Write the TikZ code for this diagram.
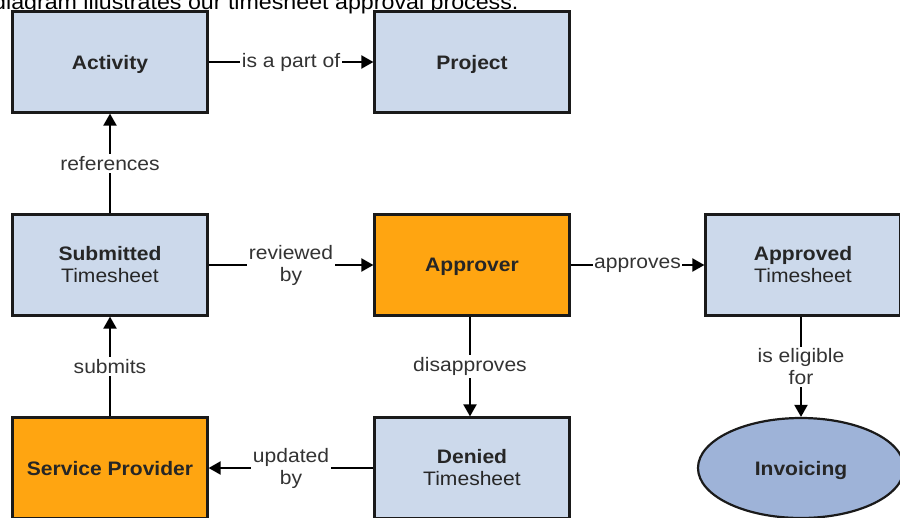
\documentclass[tikz,border=0pt]{standalone}
\usepackage{fontspec}
\setmainfont{Liberation Sans}[FakeStretch=1.08]
\usetikzlibrary{shapes.geometric,arrows.meta}
\definecolor{boxblue}{HTML}{CCD9EB}
\definecolor{boxorange}{HTML}{FFA511}
\definecolor{ellblue}{HTML}{9EB3D8}
\definecolor{txt}{HTML}{262626}
\definecolor{lbltxt}{HTML}{333333}
\definecolor{edge}{HTML}{1A1A1A}
\begin{document}
\begin{tikzpicture}[x=1pt,y=-1pt,
  box/.style={draw=edge, line width=2.2pt, minimum width=195pt, minimum height=101pt,
    inner sep=0pt, align=center, font=\fontsize{19.5}{22}\selectfont, text=txt},
  bluebox/.style={box, fill=boxblue},
  orangebox/.style={box, fill=boxorange},
  oneline/.style={text depth=0pt},
  ellnode/.style={draw=edge, line width=2.2pt, ellipse, fill=ellblue, minimum width=206pt,
    minimum height=100pt, inner sep=0pt, text depth=0pt, font=\fontsize{19.5}{22}\selectfont\bfseries, text=txt},
  lbl/.style={fill=white, font=\fontsize{19.5}{22}\selectfont, text=lbltxt, align=center,
    inner xsep=1.5pt, inner ysep=2pt},
  conn/.style={draw=black, line width=2pt, -{Triangle[length=12pt,width=13pt]}}
]
\useasboundingbox (0,0) rectangle (900,517);
\clip (0,0) rectangle (900,517);
\fill[white] (0,0) rectangle (900,517);

\node[anchor=base east, font=\fontsize{21.5}{24}\selectfont, text=black] (cap) at (522,9.5)
  {diagram illustrates our timesheet approval process.};

\node[bluebox, oneline] (act) at (110,62) {\textbf{Activity}};
\node[bluebox, oneline] (proj) at (472,62) {\textbf{Project}};
\node[bluebox] (sub) at (110,265) {\textbf{Submitted}\\Timesheet};
\node[orangebox, oneline] (appr) at (472,265) {\textbf{Approver}};
\node[bluebox] (aok) at (803,265) {\textbf{Approved}\\Timesheet};
\node[orangebox, oneline] (sp) at (110,468) {\textbf{Service Provider}};
\node[bluebox] (den) at (472,468) {\textbf{Denied}\\Timesheet};
\node[ellnode] (inv) at (801,468) {Invoicing};

\draw[conn] (act) -- node[lbl] (l1) {is a part of} (proj);
\draw[conn] (sub) -- node[lbl] (l2) {references} (act);
\draw[conn] (sub) -- node[lbl] (l3) {reviewed\\by} (appr);
\draw[conn] (appr) -- node[lbl] (l4) {approves} (aok);
\draw[conn] (sp) -- node[lbl] (l5) {submits} (sub);
\draw[conn] (appr.south -| 470,0) -- node[lbl] (l6) {disapproves} (den.north -| 470,0);
\draw[conn] (aok.south -| 801,0) -- node[lbl] (l7) {is eligible\\for} (inv);
\draw[conn] (den) -- node[lbl] (l8) {updated\\by} (sp);
\end{tikzpicture}
\end{document}
